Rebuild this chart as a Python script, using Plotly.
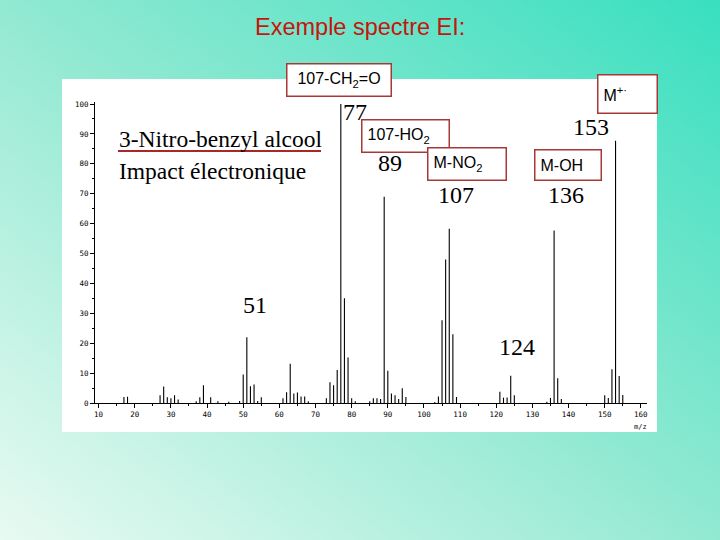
import base64
import plotly.graph_objects as go

# ---------------- data ----------------
mz = [17, 18, 27, 28, 29, 30, 31, 32, 37, 38, 39, 41, 43, 46, 49, 50, 51, 52, 53, 54, 55,
      61, 62, 63, 64, 65, 66, 67, 68, 73, 74, 75, 76, 77, 78, 79, 80, 81,
      85, 86, 87, 88, 89, 90, 91, 92, 93, 94, 95, 103, 104, 105, 106, 107, 108, 109,
      121, 122, 123, 124, 125, 134, 135, 136, 137, 138, 150, 151, 152, 153, 154, 155]
intensity = [2.0, 2.1, 2.6, 5.5, 1.9, 1.6, 2.6, 1.2, 0.6, 1.9, 5.9, 1.9, 0.6, 0.4, 0.7, 9.5, 22.0, 5.6, 6.2, 0.7, 1.9,
             1.6, 3.6, 13.1, 3.2, 3.5, 2.2, 2.2, 0.6, 1.6, 6.9, 5.9, 11.0, 100.0, 35.0, 15.2, 1.6, 0.6,
             0.6, 1.6, 1.6, 1.3, 69.0, 10.8, 3.2, 2.6, 1.3, 4.9, 2.0, 0.3, 2.2, 27.7, 48.0, 58.3, 23.0, 2.0,
             3.8, 1.8, 1.8, 9.1, 2.6, 0.4, 1.7, 57.7, 8.3, 1.3, 2.6, 1.7, 11.3, 87.7, 9.0, 2.7]

x_ticks = list(range(10, 161, 10))
y_ticks = list(range(0, 101, 10))

title_text = "Exemple spectre EI:"
compound = "3-Nitro-benzyl alcool"
method = "Impact électronique"

# peak labels (text, pixel centre)
peak_labels = [("77", 355, 112), ("89", 390, 163), ("107", 456, 195), ("136", 566, 195),
               ("153", 591, 127), ("51", 255, 305), ("124", 517, 347)]
# boxed fragment labels (text, left, top, right, bottom in pixels)
boxes = [("107-CH<sub>2</sub>=O", 286, 67, 392, 93, "center"),
         ("M<sup>+·</sup>", 597, 78, 658, 110, "left"),
         ("107-HO<sub>2</sub>", 361, 123, 450, 149, "left"),
         ("M-NO<sub>2</sub>", 427, 151, 507, 177, "left"),
         ("M-OH", 534, 153, 602, 177, "left")]

# ---------------- geometry ----------------
W, H = 720, 540
L, R, T, B = 95, 73, 102, 137
PW, PH = W - L - R, H - T - B
BOTTOM = T + PH


def pxx(x):
    return (x - L) / PW


def pxy(y):
    return (BOTTOM - y) / PH


# stems
sx, sy = [], []
for m, h in zip(mz, intensity):
    sx += [m, m, None]
    sy += [0, h, None]

fig = go.Figure()
fig.add_trace(go.Scatter(x=sx, y=sy, mode="lines", line=dict(color="black", width=1.1),
                         hoverinfo="skip", showlegend=False))

# background gradient
svg = ('<svg xmlns="http://www.w3.org/2000/svg" width="720" height="540">'
       '<defs><linearGradient id="g" x1="0" y1="1" x2="1" y2="0">'
       '<stop offset="0" stop-color="#E8FAF2"/>'
       '<stop offset="0.5" stop-color="#92E9D2"/>'
       '<stop offset="1" stop-color="#38DFC0"/>'
       '</linearGradient></defs><rect width="720" height="540" fill="url(#g)"/></svg>')
src = "data:image/svg+xml;base64," + base64.b64encode(svg.encode()).decode()

fig.add_layout_image(dict(source=src, xref="paper", yref="paper",
                          x=pxx(0), y=pxy(0), sizex=W / PW, sizey=H / PH,
                          xanchor="left", yanchor="top", sizing="stretch", layer="below"))

shapes = [
    dict(type="rect", xref="paper", yref="paper", x0=pxx(62), x1=pxx(657), y0=pxy(432), y1=pxy(79),
         fillcolor="white", line=dict(width=0), layer="below"),
    dict(type="line", xref="paper", yref="paper", x0=pxx(118), x1=pxx(321), y0=pxy(151), y1=pxy(151),
         line=dict(color="#A82828", width=2)),
]

annotations = [
    dict(text=title_text, xref="paper", yref="paper", x=pxx(360), y=pxy(27), showarrow=False,
         xanchor="center", yanchor="middle", font=dict(family="Liberation Sans", size=23.5, color="#C8140C")),
    dict(text=compound, xref="paper", yref="paper", x=pxx(117), y=pxy(139), showarrow=False,
         xanchor="left", yanchor="middle", font=dict(family="Liberation Serif", size=23.5, color="black")),
    dict(text=method, xref="paper", yref="paper", x=pxx(117), y=pxy(171), showarrow=False,
         xanchor="left", yanchor="middle", font=dict(family="Liberation Serif", size=23.5, color="black")),
    dict(text="m/z", xref="paper", yref="paper", x=pxx(640), y=pxy(427), showarrow=False,
         xanchor="center", yanchor="middle", font=dict(family="DejaVu Sans Mono", size=7, color="black")),
]
for t, x, y in peak_labels:
    annotations.append(dict(text=t, xref="paper", yref="paper", x=pxx(x), y=pxy(y), showarrow=False,
                            xanchor="center", yanchor="middle",
                            font=dict(family="Liberation Serif", size=24, color="black")))
bw, pad = 1.5, 5
for t, x0, y0, x1, y1, al in boxes:
    annotations.append(dict(text=t, xref="paper", yref="paper", x=pxx((x0 + x1) / 2), y=pxy((y0 + y1) / 2),
                            showarrow=False, xanchor="center", yanchor="middle", align=al,
                            width=(x1 - x0) - 2 * (bw + pad), height=(y1 - y0) - 2 * (bw + 1),
                            borderpad=pad, borderwidth=bw, bordercolor="#A83838", bgcolor="white",
                            font=dict(family="Liberation Sans", size=16, color="black")))

tickfont = dict(family="DejaVu Sans Mono", size=7.5, color="black")
fig.update_layout(
    width=W, height=H,
    margin=dict(l=L, r=R, t=T, b=B, autoexpand=False),
    paper_bgcolor="#9AE9D4", plot_bgcolor="rgba(0,0,0,0)",
    shapes=shapes, annotations=annotations, showlegend=False,
    xaxis=dict(range=[9, 161.7], tickmode="array", tickvals=x_ticks, ticktext=[str(v) for v in x_ticks],
               showgrid=False, zeroline=False, showline=True, linecolor="black", linewidth=1,
               ticks="outside", ticklen=4, tickcolor="black", tickwidth=1, tickfont=tickfont,
               minor=dict(tickmode="linear", tick0=5, dtick=10, ticks="outside", ticklen=2,
                          tickcolor="black", showgrid=False)),
    yaxis=dict(range=[0, 100.67], tickmode="array", tickvals=y_ticks, ticktext=[str(v) for v in y_ticks],
               showgrid=False, zeroline=False, showline=True, linecolor="black", linewidth=1,
               ticks="outside", ticklen=4, tickcolor="black", tickwidth=1, tickfont=tickfont,
               minor=dict(tickmode="linear", tick0=5, dtick=10, ticks="outside", ticklen=2,
                          tickcolor="black", showgrid=False)),
)

fig.write_html("out.html", config={"displayModeBar": False},
               post_script="document.body.style.margin='0';document.body.style.padding='0';")
